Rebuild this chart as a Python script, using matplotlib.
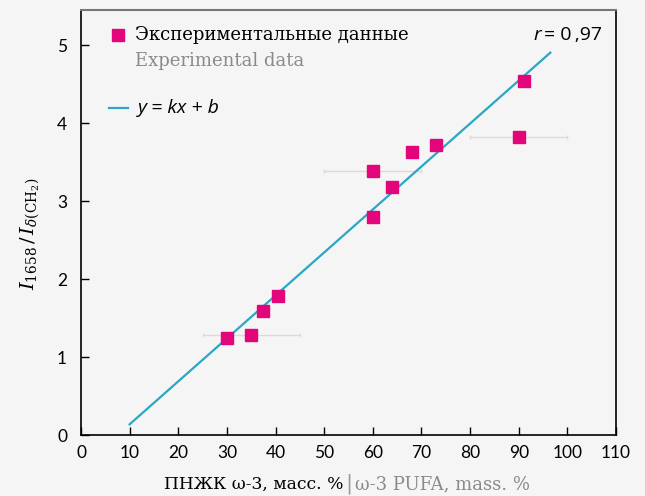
import matplotlib
matplotlib.use('Agg')
import matplotlib.pyplot as plt
import numpy as np

# экспериментальные точки
omega3 = [30, 35, 37.5, 40.5, 60, 60, 64, 68, 73, 90, 91]
ratio = [1.24, 1.28, 1.59, 1.78, 2.79, 3.39, 3.18, 3.63, 3.72, 3.82, 4.54]
xerr = [0, 10, 0, 0, 0, 10, 0, 0, 0, 10, 0]

# линия y = kx + b
k = 0.0551
b = -0.414
fit_x = [10, 96.5]

pink = '#e2067a'
cyan = '#2aa7c6'
bg = '#f5f5f5'
serif = 'DejaVu Serif'

plt.rcParams['mathtext.fontset'] = 'dejavuserif'

fig = plt.figure(figsize=(6.45, 4.96), dpi=100, facecolor=bg)
ax = fig.add_axes([81/645, 61/496, 535/645, 425/496])
ax.set_facecolor(bg)

ax.plot(fit_x, [k*x + b for x in fit_x], color=cyan, lw=1.6, zorder=2)

for x, y, e in zip(omega3, ratio, xerr):
    if e:
        ax.errorbar(x, y, xerr=e, fmt='none', ecolor='#e6d4da', elinewidth=1,
                    capsize=1.5, zorder=1)
ax.plot(omega3, ratio, 's', color=pink, ms=9, mec=pink, zorder=3)

ax.set_xlim(0, 110)
ax.set_ylim(0, 5.45)
ax.set_xticks(range(0, 111, 10))
ax.set_yticks(range(0, 6))
ax.tick_params(direction='in', length=6, width=1, labelsize=12.5)
ax.tick_params(axis='x', pad=7)
ax.tick_params(axis='y', pad=10)
for lab in ax.get_xticklabels() + ax.get_yticklabels():
    lab.set_family('Lato')
for s in ['left', 'bottom', 'right']:
    ax.spines[s].set_linewidth(1.2)
ax.spines['top'].set_color('#777777')
ax.spines['top'].set_linewidth(1.5)

# легенда
ax.plot([7.7], [5.13], 's', color=pink, ms=8, mec=pink, clip_on=False)
ax.text(11.2, 5.13, 'Экспериментальные данные', fontsize=13, family=serif,
        va='center', ha='left')
ax.text(11.2, 4.80, 'Experimental data', fontsize=13, family=serif,
        color='#8a8a8a', va='center', ha='left')
ax.plot([5.8, 9.6], [4.19, 4.19], color=cyan, lw=1.6)
ax.text(11.6, 4.19, 'y = kx + b', fontsize=14, family='Open Sans',
        style='italic', va='center', ha='left')
ax.text(93.0, 5.13, 'r', fontsize=14, family='Open Sans', style='italic',
        va='center', ha='left')
ax.text(95.2, 5.13, '= 0\u2009,97', fontsize=14, family=['Open Sans', 'DejaVu Sans'],
        va='center', ha='left')

# подписи осей
fig.text(343/645, 1 - 484/496, 'ПНЖК ω-3, масс. %', fontsize=12.3, family=serif,
         ha='right', va='center')
fig.text(349/645, 1 - 484/496, '|', fontsize=15, family=serif, color='#999999',
         ha='center', va='center')
fig.text(355/645, 1 - 484/496, 'ω-3 PUFA, mass. %', fontsize=13, family=serif,
         color='#8a8a8a', ha='left', va='center')
fig.text(30/645, 1 - 234/496, r'$I_{1658}\,/\,I_{\delta(\mathrm{CH_2})}$',
         fontsize=14, rotation=90, ha='center', va='center')

fig.savefig('out.png', dpi=100, facecolor=bg)
